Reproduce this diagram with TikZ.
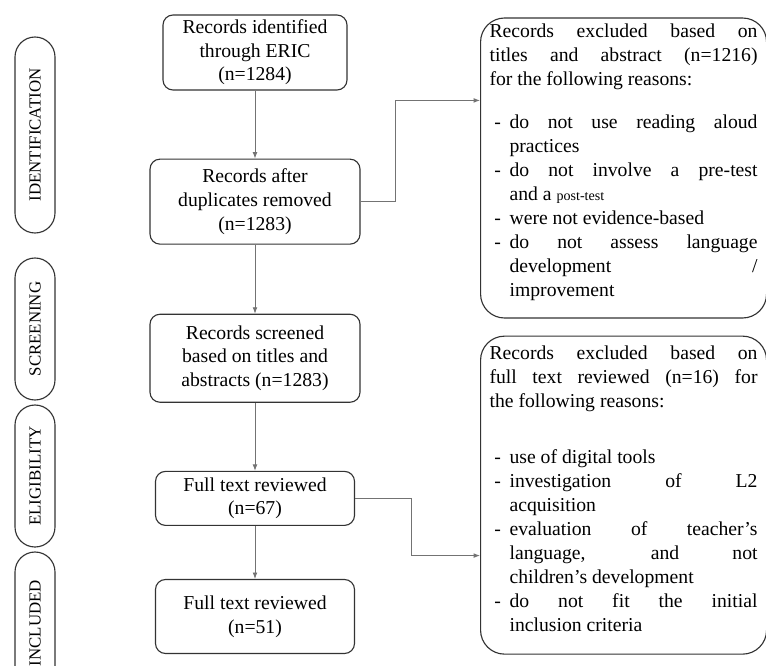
\documentclass[tikz,border=0pt]{standalone}
\usepackage{fontspec}
\setmainfont{Liberation Serif}
\usetikzlibrary{arrows.meta, positioning, calc}
\newcommand{\motivo}[1]{\par\noindent\hangindent=5mm\hangafter=1\makebox[5mm][l]{\hspace{1.2mm}-}#1}

\begin{document}
\begin{tikzpicture}[
        font=\fontsize{14}{16.8}\selectfont,
        registro/.style={draw=black!80, line width=0.8pt, rounded corners=2.5mm, align=center, inner sep=2pt, minimum width=#1},
        registro/.default=52.5mm,
        exclusao/.style={draw=black!80, line width=0.8pt, rounded corners=6mm, align=justify, text width=67mm, minimum width=71.5mm, font=\fontsize{14}{17.1}\selectfont},
        fase/.style={draw=black!80, line width=0.8pt, rounded corners=5mm, rotate=90, minimum height=10mm, inner sep=0pt, font=\fontsize{12}{14}\selectfont},
        seta/.style={-{Latex[length=1.6mm, width=1.2mm]}, draw=black!55, line width=0.6pt}
    ]
    \useasboundingbox (0,0) rectangle (191.5mm,-166.25mm);

    \node[registro=46mm, minimum height=18.75mm] (ident) at (63.75mm,-13.125mm) {Records identified\\through ERIC\\(n=1284)};
    \node[registro, minimum height=21.25mm, below=17mm of ident] (dup) {Records after\\duplicates removed\\(n=1283)};
    \node[registro, minimum height=22mm, below=17.25mm of dup] (triagem) {Records screened\\based on titles and\\abstracts (n=1283)};
    \node[registro=49.75mm, minimum height=13.5mm, below=17mm of triagem] (texto) {Full text reviewed\\(n=67)};
    \node[registro=49.75mm, minimum height=18.5mm, below=13.25mm of texto] (incl) {Full text reviewed\\(n=51)};

    \node[exclusao, minimum height=75mm, right=56.25mm of {[yshift=-0.75mm]ident.north}, anchor=north west] (excl1) {\noindent Records excluded based on\linebreak titles and abstract (n=1216)\linebreak for the following reasons:\par\vspace{4.75mm}
        \motivo{do not use reading aloud\linebreak practices}
        \motivo{do not involve a pre-test\linebreak and a {\fontsize{10}{12}\selectfont post-test}}
        \motivo{were not evidence-based}
        \motivo{do not assess language\linebreak development /\linebreak improvement\rule[-4mm]{0pt}{0pt}}\par};
    \node[exclusao, minimum height=79.5mm, below=4.25mm of excl1.south west, anchor=north west] (excl2) {\noindent Records excluded based on\linebreak full text reviewed (n=16) for\linebreak the following reasons:\par\vspace{8mm}
        \motivo{use of digital tools}
        \motivo{investigation of L2\linebreak acquisition}
        \motivo{evaluation of teacher's\linebreak language, and not\linebreak children's development}
        \motivo{do not fit the initial\linebreak inclusion criteria\rule[-3.1mm]{0pt}{0pt}}\par};

    % fases do fluxo
    \node[fase, minimum width=49mm] (fident) at (8.75mm,-33.75mm) {IDENTIFICATION};
    \node[fase, minimum width=35.5mm] (fscreen) at (8.75mm,-82.25mm) {SCREENING};
    \node[fase, minimum width=35.5mm] (felig) at (8.75mm,-119mm) {ELIGIBILITY};
    \node[fase, minimum width=35.5mm] (fincl) at (8.75mm,-155.75mm) {INCLUDED};

    \draw[seta] (ident) -- (dup);
    \draw[seta] (dup) -- (triagem);
    \draw[seta] (triagem) -- (texto);
    \draw[seta] (texto) -- (incl);
    \draw[seta] (dup.east) -- ++(8.75mm,0) |- ([yshift=-20.75mm]excl1.north west);
    \draw[seta] (texto.east) -- ++(14mm,0) |- ([yshift=-55mm]excl2.north west);
\end{tikzpicture}
\end{document}
